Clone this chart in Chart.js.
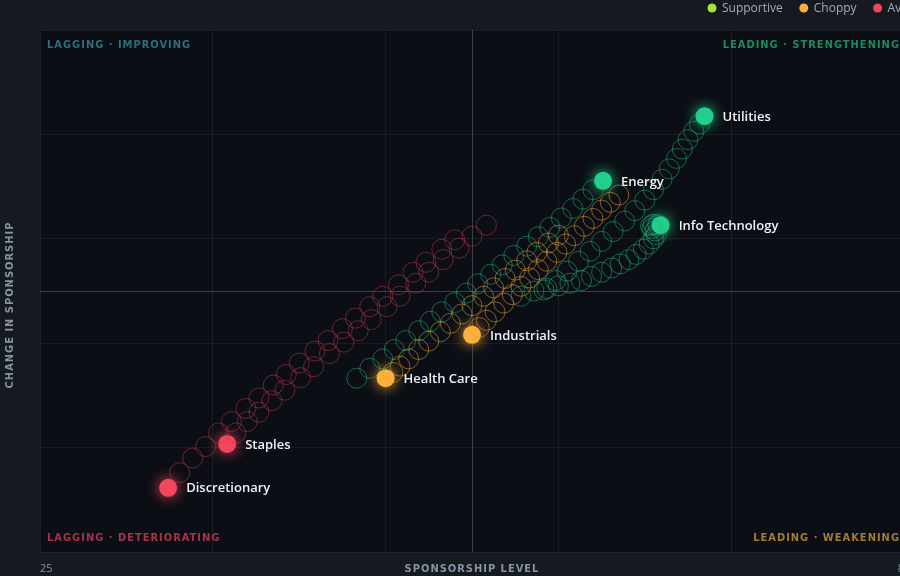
<!DOCTYPE html>
<html>
<head>
<meta charset="utf-8">
<script src="https://cdn.jsdelivr.net/npm/chart.js@4.4.1/dist/chart.umd.min.js"></script>
<style>
  html,body{margin:0;padding:0;background:#151920;overflow:hidden;}
  #wrap{width:915px;height:576px;position:relative;}
</style>
</head>
<body>
<div id="wrap"><canvas id="c"></canvas></div>
<script>
// sector names + rotation trails (oldest -> latest)
const sectors = ['Discretionary','Staples','Health Care','Industrials','Energy','Utilities','Info Technology'];
const regime = ['avoid','avoid','choppy','choppy','supportive','supportive','supportive'];

const discX = [53.8,52.9,51.8,50.9,49.9,48.8,47.9,46.9,46.0,45.0,44.1,43.0,42.1,41.2,40.2,39.3,38.3,37.4,36.5,35.6,34.7,33.9];
const discY = [0.98,0.8,0.55,0.36,0.12,-0.1,-0.3,-0.52,-0.72,-0.95,-1.15,-1.38,-1.6,-1.8,-2.05,-2.25,-2.5,-2.72,-2.98,-3.2,-3.48,-3.77];
const stapX = [56.0,55.0,54.1,53.0,52.0,51.1,50.0,49.1,48.0,47.1,46.1,45.1,44.0,43.1,42.0,41.1,40.2,39.4,38.6,38.0];
const stapY = [1.26,1.05,0.82,0.6,0.36,0.15,-0.1,-0.3,-0.55,-0.76,-0.98,-1.2,-1.45,-1.66,-1.9,-2.1,-2.32,-2.5,-2.72,-2.93];
const hcX = [61.0,60.3,59.5,58.8,58.0,57.3,56.5,55.8,55.0,54.3,53.5,52.8,52.0,51.3,50.6,50.0,49.5,49.0];
const hcY = [1.07,0.92,0.74,0.58,0.4,0.24,0.06,-0.1,-0.28,-0.44,-0.62,-0.78,-0.96,-1.12,-1.3,-1.44,-1.56,-1.67];
const indX = [65.2,64.6,64.0,63.4,62.8,62.1,61.5,60.9,60.2,59.6,59.0,58.4,57.8,57.2,56.6,56.0,55.5,55.0];
const indY = [1.84,1.7,1.55,1.39,1.24,1.06,0.9,0.74,0.57,0.41,0.25,0.09,-0.07,-0.23,-0.4,-0.56,-0.7,-0.84];
const enX = [47.0,47.9,48.8,49.6,50.4,51.3,52.1,52.9,53.8,54.6,55.4,56.3,57.1,57.9,58.8,59.6,60.4,61.2,62.0,62.7,63.4,64.1];
const enY = [-1.67,-1.48,-1.3,-1.12,-0.95,-0.76,-0.58,-0.4,-0.22,-0.04,0.14,0.32,0.5,0.68,0.86,1.04,1.22,1.4,1.58,1.76,1.94,2.11];
const utX = [60.0,60.8,61.6,62.4,63.2,64.0,64.8,65.6,66.3,67.0,67.6,68.2,68.7,69.2,69.6,70.0,70.4,70.8,71.15];
const utY = [0.02,0.2,0.38,0.57,0.76,0.95,1.14,1.34,1.54,1.74,1.94,2.14,2.34,2.54,2.72,2.9,3.06,3.2,3.35];
const itX = [58.4,59.3,60.2,61.0,61.8,62.6,63.3,64.0,64.7,65.3,65.9,66.4,66.9,67.3,67.6,67.8,67.7,67.5,67.4,67.6,67.9,68.1];
const itY = [-0.1,0.0,0.05,0.1,0.15,0.2,0.28,0.36,0.44,0.52,0.6,0.7,0.8,0.9,1.0,1.08,1.15,1.2,1.25,1.28,1.27,1.26];

const trailsX = [discX,stapX,hcX,indX,enX,utX,itX];
const trailsY = [discY,stapY,hcY,indY,enY,utY,itY];

const xTicks = [25,37,49,55,61,73,85];
const yTicks = [-5,-3,-1,0,1,3,5];
const legendItems = [['Supportive','#a3e635'],['Choppy','#fbb03b'],['Avoid','#f2465c']];

const colors = {
  supportive: {fill:'#22d08e', trail:'rgba(34,190,130,0.5)'},
  choppy: {fill:'#fbb03b', trail:'rgba(232,160,50,0.55)'},
  avoid: {fill:'#f2465c', trail:'rgba(200,55,80,0.5)'}
};

const datasets = [];
sectors.forEach((name,i)=>{
  const pts = trailsX[i].map((x,k)=>({x, y: trailsY[i][k]}));
  const c = colors[regime[i]];
  datasets.push({label:name+' trail', data: pts.slice(0,-1), pointRadius:10, pointBorderWidth:1,
    pointBackgroundColor:'transparent', pointBorderColor:c.trail, showLine:false, trail:true});
  datasets.push({label:name, data: pts.slice(-1), pointRadius:9, pointBorderWidth:0,
    pointBackgroundColor:c.fill, showLine:false, head:true, glow:c.fill});
});

const decor = {
  id:'decor',
  beforeDraw(chart){
    const {ctx, chartArea:a} = chart;
    ctx.save();
    ctx.fillStyle = '#0b0e14';
    ctx.fillRect(a.left, a.top, a.right-a.left, a.bottom-a.top);
    ctx.restore();
  },
  beforeDatasetDraw(chart, args){
    const ds = chart.data.datasets[args.index];
    if(ds.head){ chart.ctx.save(); chart.ctx.shadowColor = ds.glow; chart.ctx.shadowBlur = 14; }
  },
  afterDatasetDraw(chart, args){
    if(chart.data.datasets[args.index].head) chart.ctx.restore();
  },
  afterDraw(chart){
    const {ctx, chartArea:a} = chart;
    ctx.save();
    // sector labels
    ctx.font = '600 13px "Open Sans", sans-serif';
    ctx.fillStyle = '#eef1f5';
    ctx.textBaseline = 'middle';
    chart.data.datasets.forEach((ds,i)=>{
      if(!ds.head) return;
      const p = chart.getDatasetMeta(i).data[0];
      ctx.fillText(ds.label, p.x+18, p.y+1);
    });
    // quadrant labels
    ctx.font = 'bold 11px "DejaVu Sans Condensed", "Open Sans", sans-serif';
    ctx.letterSpacing = '1px';
    ctx.textAlign = 'left';
    ctx.fillStyle = '#2f6f7a'; ctx.fillText('LAGGING · IMPROVING', a.left+7, a.top+15);
    ctx.fillStyle = '#a8334a'; ctx.fillText('LAGGING · DETERIORATING', a.left+7, a.bottom-14);
    ctx.textAlign = 'right';
    ctx.fillStyle = '#1f8a62'; ctx.fillText('LEADING · STRENGTHENING', 900, a.top+15);
    ctx.fillStyle = '#a67c30'; ctx.fillText('LEADING · WEAKENING', 900, a.bottom-14);
    // axis labels
    ctx.fillStyle = '#8a93a5';
    ctx.textAlign = 'center';
    ctx.fillText('SPONSORSHIP LEVEL', chart.scales.x.getPixelForValue(55), 569);
    ctx.letterSpacing = '0px';
    ctx.font = '11px "Open Sans", sans-serif';
    ctx.textAlign = 'left';
    ctx.fillText(String(xTicks[0]), a.left, 569);
    ctx.textAlign = 'center';
    ctx.fillText(String(xTicks[xTicks.length-1]), a.right, 569);
    ctx.save();
    ctx.translate(10, 305);
    ctx.rotate(-Math.PI/2);
    ctx.font = 'bold 11px "DejaVu Sans Condensed", "Open Sans", sans-serif';
    ctx.letterSpacing = '1px';
    ctx.fillText('CHANGE IN SPONSORSHIP', 0, 0);
    ctx.restore();
    // legend
    ctx.font = '12px "Open Sans", sans-serif';
    ctx.textAlign = 'left';
    let lx = 712;
    legendItems.forEach(([t,c])=>{
      ctx.fillStyle = c;
      ctx.beginPath(); ctx.arc(lx, 8, 4.5, 0, Math.PI*2); ctx.fill();
      ctx.fillStyle = '#a3abba';
      ctx.fillText(t, lx+10, 9);
      lx += ctx.measureText(t).width + 31;
    });
    ctx.restore();
  }
};

const gridColor = (v, center) => v === center ? 'rgba(255,255,255,0.2)' : 'rgba(255,255,255,0.06)';

new Chart(document.getElementById('c'), {
  type:'scatter',
  data:{datasets},
  options:{
    responsive:true, maintainAspectRatio:false, animation:false,
    layout:{padding:{left:40, top:30, right:9, bottom:24}},
    plugins:{legend:{display:false}, tooltip:{enabled:false}},
    scales:{
      x:{min:25, max:85, ticks:{display:false},
         afterBuildTicks(s){ s.ticks = xTicks.map(v=>({value:v})); },
         grid:{drawTicks:false, color:ctx=>gridColor(ctx.tick && ctx.tick.value, 55)},
         border:{display:false}},
      y:{min:-5, max:5, ticks:{display:false},
         afterBuildTicks(s){ s.ticks = yTicks.map(v=>({value:v})); },
         grid:{drawTicks:false, color:ctx=>gridColor(ctx.tick && ctx.tick.value, 0)},
         border:{display:false}}
    }
  },
  plugins:[decor]
});
</script>
</body>
</html>
